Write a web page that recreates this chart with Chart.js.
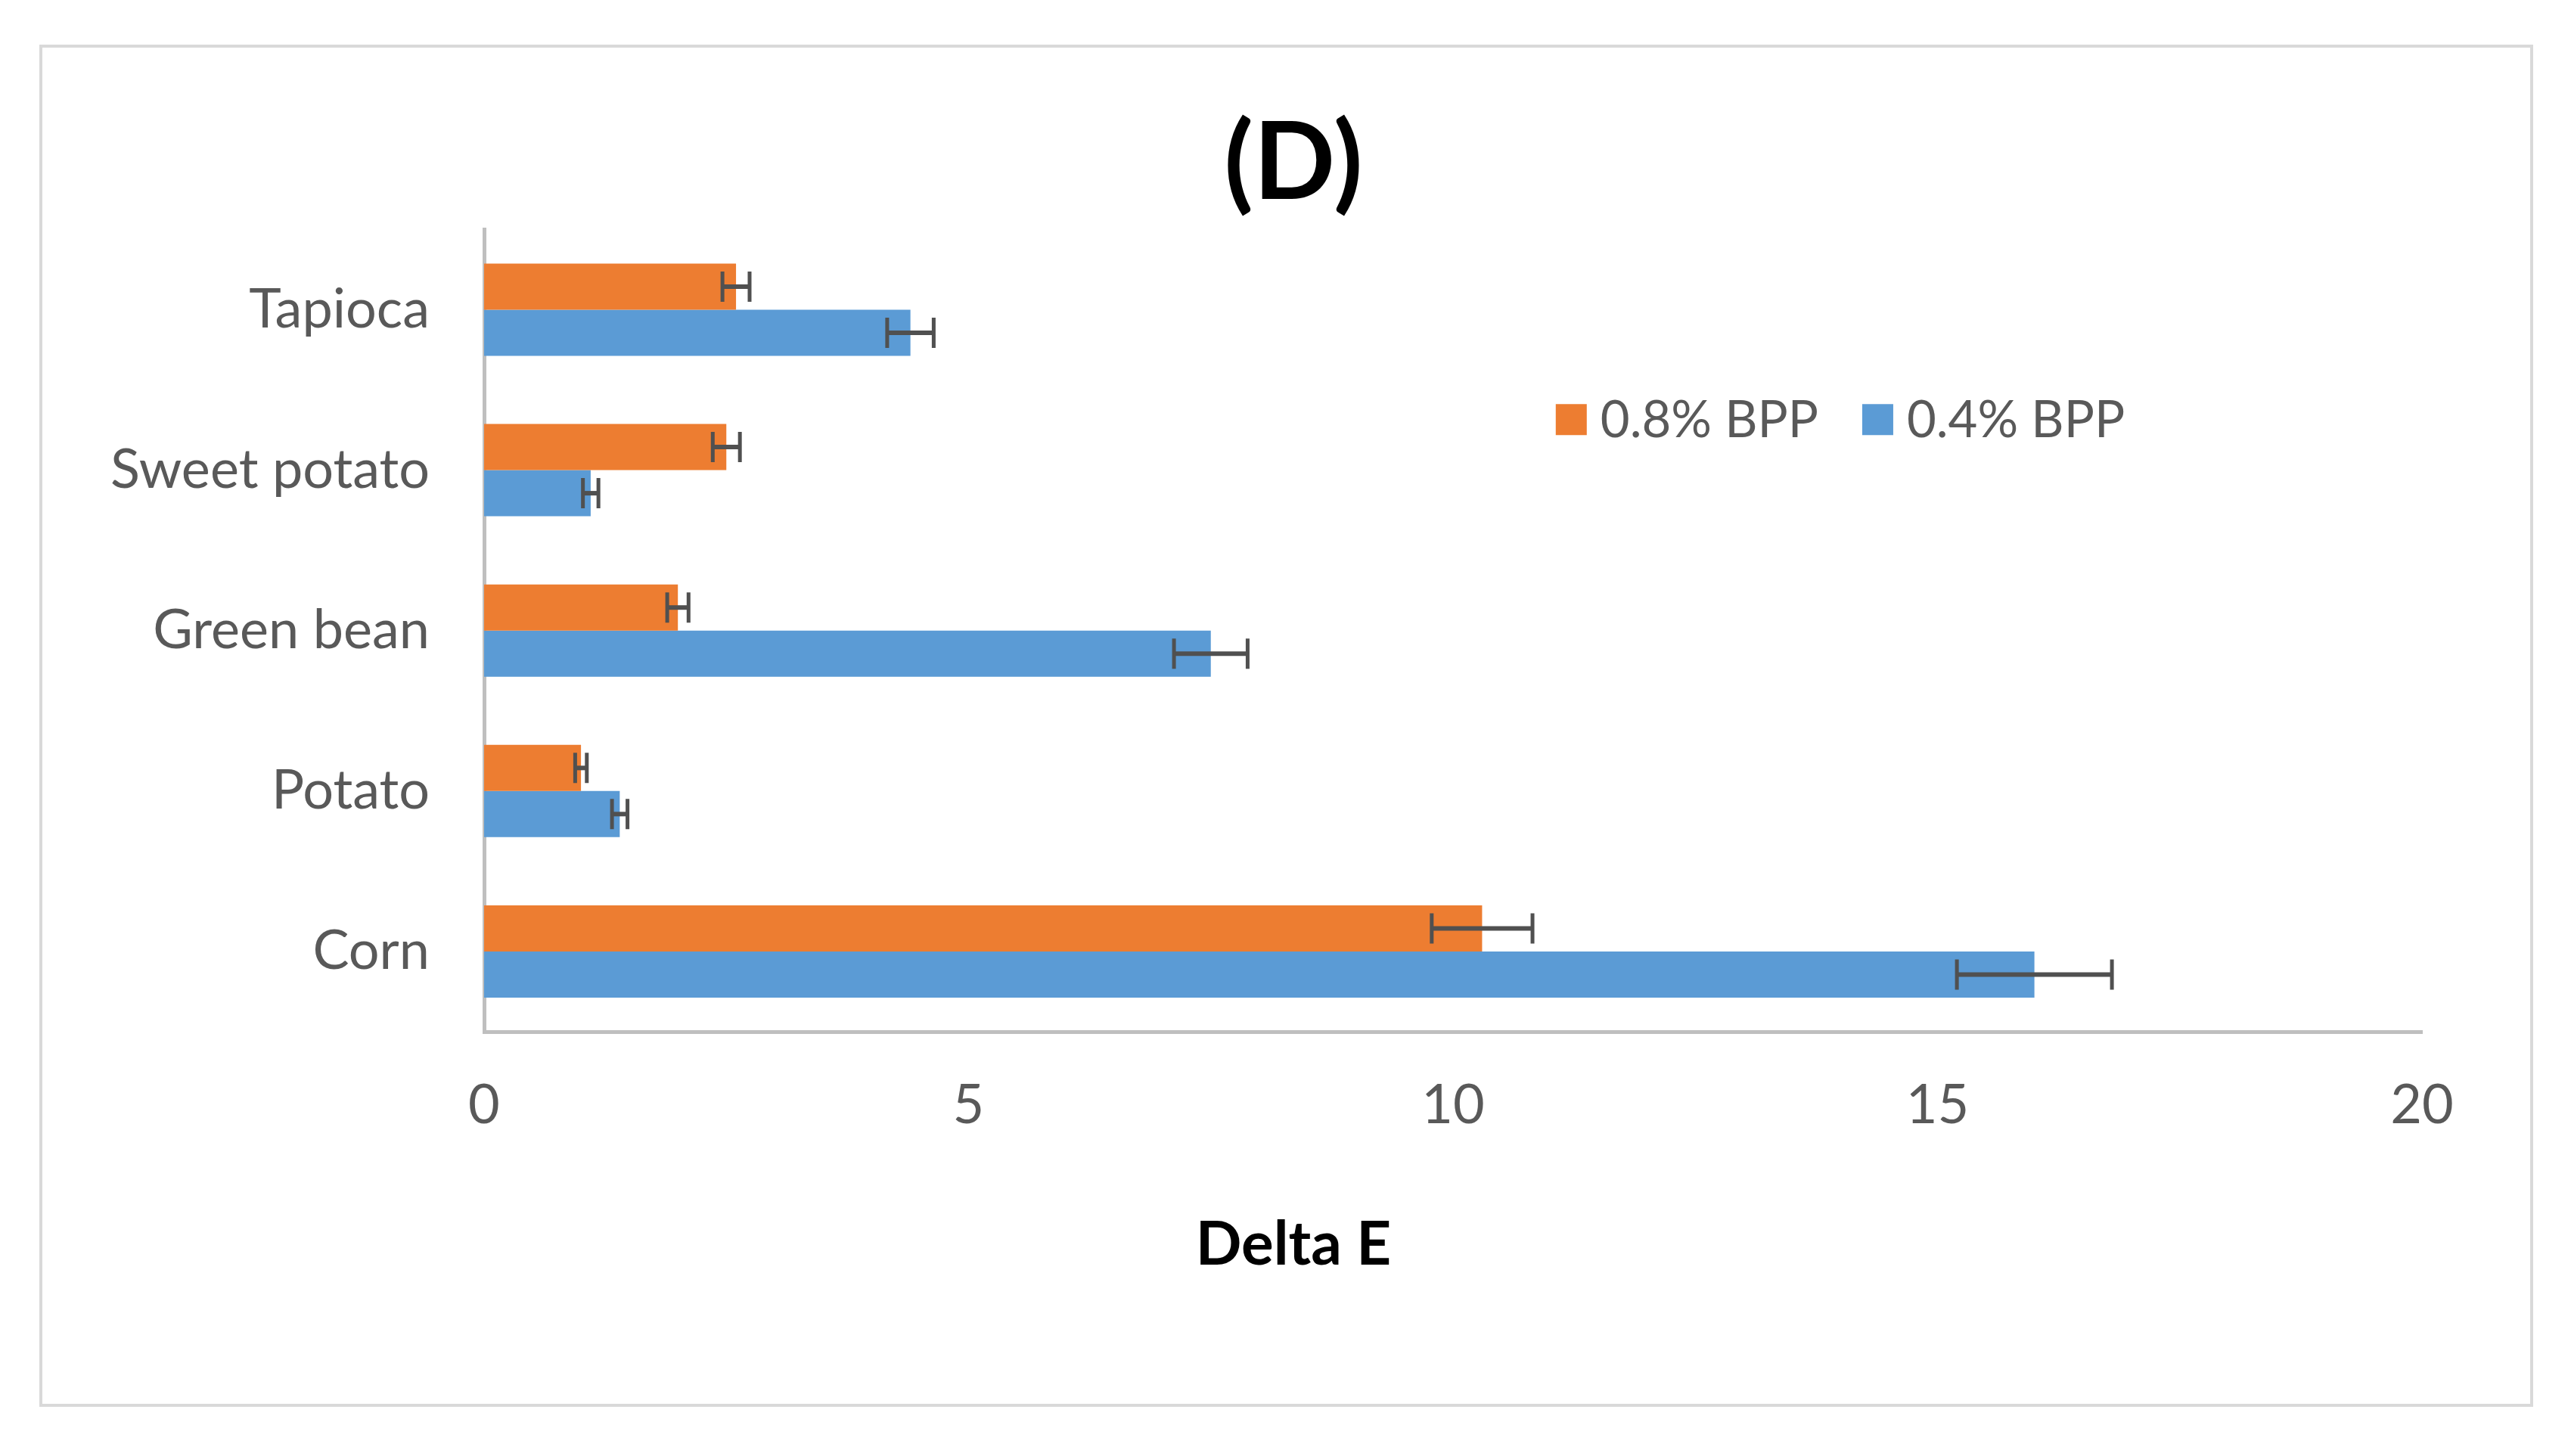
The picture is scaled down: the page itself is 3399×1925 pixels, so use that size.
<!DOCTYPE html>
<html>
<head>
<meta charset="utf-8">
<script src="https://cdn.jsdelivr.net/npm/chart.js@4.4.1/dist/chart.umd.min.js"></script>
<style>
  html, body { margin: 0; padding: 0; background: #fff; }
  #wrap { width: 3399px; height: 1925px; }
</style>
</head>
<body>
<div id="wrap"><canvas id="barChart"></canvas></div>
<script>
// categories top to bottom, as in the figure
const categories = ["Tapioca", "Sweet potato", "Green bean", "Potato", "Corn"];
const bpp08 = [2.6, 2.5, 2.0, 1.0, 10.3];
const bpp08Err = [0.14, 0.14, 0.11, 0.06, 0.52];
const bpp04 = [4.4, 1.1, 7.5, 1.4, 16.0];
const bpp04Err = [0.24, 0.08, 0.38, 0.08, 0.8];
const xTicks = [0, 5, 10, 15, 20];

const textColor = "#595959";
const axisColor = "#bfbfbf";
const fontFamily = "Lato, 'Open Sans', sans-serif";

// outer frame of the chart
const framePlugin = {
    id: "frame",
    beforeDraw(chart) {
        const ctx = chart.ctx;
        ctx.save();
        ctx.fillStyle = "#fff";
        ctx.fillRect(0, 0, chart.width, chart.height);
        ctx.strokeStyle = "#d9d9d9";
        ctx.lineWidth = 4;
        ctx.strokeRect(54, 61, 3293, 1797);
        ctx.restore();
    }
};

// error bars drawn through the x scale
const errorBarPlugin = {
    id: "errorBars",
    afterDatasetsDraw(chart) {
        const ctx = chart.ctx;
        const xs = chart.scales.x;
        ctx.save();
        ctx.strokeStyle = "#505050";
        chart.data.datasets.forEach((ds, i) => {
            const meta = chart.getDatasetMeta(i);
            meta.data.forEach((bar, j) => {
                const v = ds.data[j];
                const e = ds.errors[j];
                const x1 = xs.getPixelForValue(v - e);
                const x2 = xs.getPixelForValue(v + e);
                const y = bar.y;
                const cap = 20;
                ctx.lineWidth = 6;
                ctx.beginPath();
                ctx.moveTo(x1, y);
                ctx.lineTo(x2, y);
                ctx.stroke();
                ctx.lineWidth = 5;
                ctx.beginPath();
                ctx.moveTo(x1, y - cap);
                ctx.lineTo(x1, y + cap);
                ctx.moveTo(x2, y - cap);
                ctx.lineTo(x2, y + cap);
                ctx.stroke();
            });
        });
        ctx.restore();
    }
};

// legend inside the plot, upper right
const insideLegendPlugin = {
    id: "insideLegend",
    afterDraw(chart) {
        const ctx = chart.ctx;
        const area = chart.chartArea;
        let x = area.left + (area.right - area.left) * 0.553;
        const y = area.top + (area.bottom - area.top) * 0.237;
        const box = 41;
        ctx.save();
        ctx.font = "67px " + fontFamily;
        ctx.textBaseline = "middle";
        ctx.textAlign = "left";
        chart.data.datasets.forEach(ds => {
            ctx.fillStyle = ds.backgroundColor;
            ctx.fillRect(x, y - box / 2, box, box);
            x += box + 18;
            ctx.fillStyle = textColor;
            ctx.fillText(ds.label, x, y + 2);
            x += ctx.measureText(ds.label).width + 58;
        });
        ctx.restore();
    }
};

new Chart(document.getElementById("barChart"), {
    type: "bar",
    data: {
        labels: categories,
        datasets: [{
            label: "0.8% BPP",
            data: bpp08,
            errors: bpp08Err,
            backgroundColor: "#ed7d31"
        }, {
            label: "0.4% BPP",
            data: bpp04,
            errors: bpp04Err,
            backgroundColor: "#5b9bd5"
        }]
    },
    options: {
        indexAxis: "y",
        responsive: true,
        maintainAspectRatio: false,
        animation: false,
        devicePixelRatio: 1,
        categoryPercentage: 0.575,
        barPercentage: 1.0,
        layout: {
            padding: { top: 100, left: 60, right: 39, bottom: 231 }
        },
        scales: {
            x: {
                min: 0,
                max: 20,
                afterBuildTicks: s => { s.ticks = xTicks.map(v => ({ value: v })); },
                afterFit: s => { s.height = 180; },
                grid: { display: false, drawTicks: false },
                border: { display: true, color: axisColor, width: 5 },
                ticks: {
                    color: textColor,
                    padding: 55,
                    font: { family: fontFamily, size: 72 }
                }
            },
            y: {
                afterFit: s => { s.width = 580; },
                grid: { display: false, drawTicks: false },
                border: { display: true, color: axisColor, width: 5 },
                ticks: {
                    color: textColor,
                    padding: 72,
                    font: { family: fontFamily, size: 72 }
                }
            },
            // empty right-hand space, keeps the titles centred on the frame
            yRight: {
                type: "category",
                position: "right",
                afterFit: s => { s.width = 158; },
                grid: { display: false, drawTicks: false },
                border: { display: false },
                ticks: { display: false }
            }
        },
        plugins: {
            legend: { display: false },
            tooltip: { enabled: false },
            title: {
                display: true,
                text: "(D)",
                color: "#000",
                font: { family: fontFamily, size: 142, weight: "bold" },
                padding: { top: 32, bottom: 1 }
            },
            subtitle: {
                display: true,
                position: "bottom",
                text: "Delta E",
                color: "#000",
                font: { family: fontFamily, size: 80, weight: "bold" },
                padding: { top: 54, bottom: 0 }
            }
        }
    },
    plugins: [framePlugin, errorBarPlugin, insideLegendPlugin]
});
</script>
</body>
</html>
